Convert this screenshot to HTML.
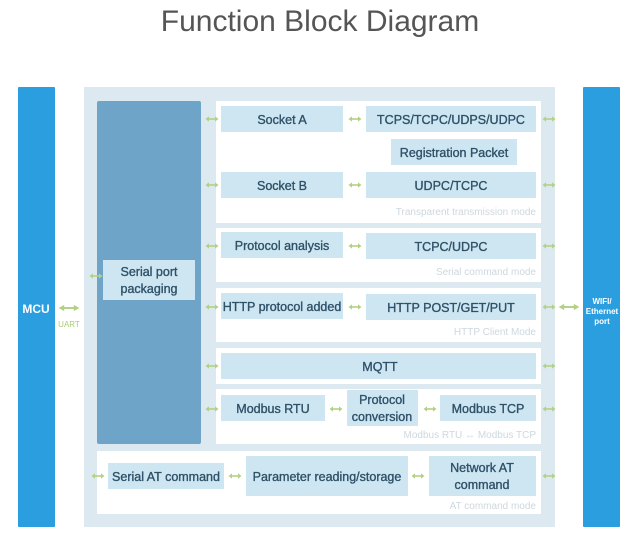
<!DOCTYPE html>
<html><head><meta charset="utf-8"><style>
html,body{margin:0;padding:0;background:#fff;}
svg{display:block}
.t{font-family:"Liberation Sans",sans-serif;font-size:12.5px;fill:#2f5168;text-anchor:middle;stroke:#2f5168;stroke-width:0.35;}
.c{font-family:"Liberation Sans",sans-serif;font-size:10px;fill:#cdd8df;text-anchor:end;}
.b{fill:#cde6f2}
.g{fill:#fff}
</style></head><body>
<svg width="640" height="544" viewBox="0 0 640 544" xmlns="http://www.w3.org/2000/svg">
<defs>
<g id="a"><rect x="-4" y="-0.8" width="8" height="1.6" fill="#b3d184"/><path d="M-6.5 0 L-3 -2.6 L-3 2.6Z M6.5 0 L3 -2.6 L3 2.6Z" fill="#b3d184"/></g>
</defs>
<text x="320" y="31" font-family="Liberation Sans,sans-serif" font-size="30" fill="#555" text-anchor="middle">Function Block Diagram</text>
<rect x="18" y="87" width="37" height="440" fill="#2b9ee0" rx="1"/>
<rect x="583" y="87" width="37" height="440" fill="#2b9ee0" rx="1"/>
<rect x="84" y="87" width="471" height="440" fill="#dce9f1"/>
<rect x="97" y="101" width="104" height="343" fill="#6fa4c9" rx="2"/>
<rect x="103" y="260" width="92" height="40" class="b"/>
<text class="t" x="149" y="276">Serial port</text>
<text class="t" x="149" y="293">packaging</text>
<rect x="216" y="101" width="325" height="122" class="g"/>
<rect x="216" y="228" width="325" height="54" class="g"/>
<rect x="216" y="288" width="325" height="54" class="g"/>
<rect x="216" y="348" width="325" height="36" class="g"/>
<rect x="216" y="389" width="325" height="55" class="g"/>
<rect x="97" y="451" width="444" height="63" class="g"/>
<rect x="221" y="106" width="122" height="26" class="b"/><text class="t" x="282" y="124">Socket A</text>
<rect x="366" y="106" width="170" height="26" class="b"/><text class="t" x="451" y="124">TCPS/TCPC/UDPS/UDPC</text>
<rect x="391" y="139" width="126" height="26" class="b"/><text class="t" x="454" y="157">Registration Packet</text>
<rect x="221" y="172" width="122" height="26" class="b"/><text class="t" x="282" y="190">Socket B</text>
<rect x="366" y="172" width="170" height="26" class="b"/><text class="t" x="451" y="190">UDPC/TCPC</text>
<text class="c" x="536" y="215">Transparent transmission mode</text>
<rect x="221" y="232" width="122" height="26" class="b"/><text class="t" x="282" y="250">Protocol analysis</text>
<rect x="366" y="233" width="170" height="26" class="b"/><text class="t" x="451" y="251">TCPC/UDPC</text>
<text class="c" x="536" y="275">Serial command mode</text>
<rect x="221" y="293" width="122" height="26" class="b"/><text class="t" x="282" y="311">HTTP protocol added</text>
<rect x="366" y="294" width="170" height="26" class="b"/><text class="t" x="451" y="312">HTTP POST/GET/PUT</text>
<text class="c" x="536" y="335">HTTP Client Mode</text>
<rect x="221" y="353" width="315" height="26" class="b"/><text class="t" x="380" y="371">MQTT</text>
<rect x="221" y="395" width="104" height="26" class="b"/><text class="t" x="273" y="413">Modbus RTU</text>
<rect x="347" y="390" width="71" height="36" class="b"/><text class="t" x="382" y="404">Protocol</text><text class="t" x="382" y="421">conversion</text>
<rect x="440" y="395" width="96" height="26" class="b"/><text class="t" x="488" y="413">Modbus TCP</text>
<text class="c" x="536" y="438">Modbus RTU ↔ Modbus TCP</text>
<rect x="108" y="463" width="116" height="26" class="b"/><text class="t" x="166" y="481">Serial AT command</text>
<rect x="246" y="456" width="162" height="40" class="b"/><text class="t" x="327" y="481">Parameter reading/storage</text>
<rect x="429" y="456" width="107" height="40" class="b"/><text class="t" x="482" y="472">Network AT</text><text class="t" x="482" y="489">command</text>
<text class="c" x="536" y="509">AT command mode</text>
<use href="#a" x="212" y="119"/><use href="#a" x="355" y="119"/><use href="#a" x="549" y="119"/>
<use href="#a" x="212" y="185"/><use href="#a" x="355" y="185"/><use href="#a" x="549" y="185"/>
<use href="#a" x="212" y="246"/><use href="#a" x="355" y="246"/><use href="#a" x="549" y="246"/>
<use href="#a" x="212" y="307"/><use href="#a" x="355" y="307"/><use href="#a" x="549" y="307"/>
<use href="#a" x="212" y="366"/><use href="#a" x="549" y="366"/>
<use href="#a" x="212" y="409"/><use href="#a" x="336" y="409"/><use href="#a" x="430" y="409"/><use href="#a" x="549" y="409"/>
<use href="#a" x="98" y="476"/><use href="#a" x="235" y="476"/><use href="#a" x="418" y="476"/><use href="#a" x="549" y="476"/>
<use href="#a" x="96" y="276"/>
<g transform="translate(69,308) scale(1.6,1.2)"><use href="#a"/></g>
<g transform="translate(569,307) scale(1.6,1.2)"><use href="#a"/></g>
<text x="36" y="313" font-family="Liberation Sans,sans-serif" font-size="12" font-weight="bold" fill="#fff" text-anchor="middle">MCU</text>
<text x="69" y="327" font-family="Liberation Sans,sans-serif" font-size="8" fill="#a9cc72" text-anchor="middle">UART</text>
<text x="602" y="304" font-family="Liberation Sans,sans-serif" font-size="8" font-weight="bold" fill="#fff" text-anchor="middle">WIFI/</text>
<text x="602" y="314" font-family="Liberation Sans,sans-serif" font-size="8" font-weight="bold" fill="#fff" text-anchor="middle">Ethernet</text>
<text x="602" y="324" font-family="Liberation Sans,sans-serif" font-size="8" font-weight="bold" fill="#fff" text-anchor="middle">port</text>
</svg>
</body></html>
